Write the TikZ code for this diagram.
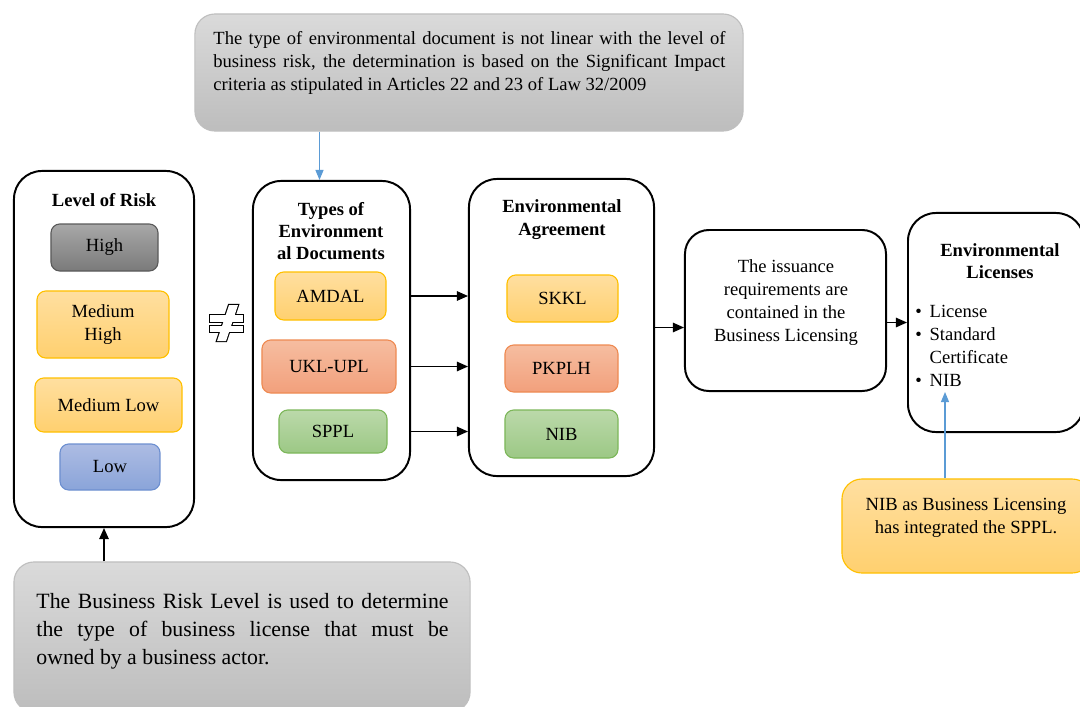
\documentclass[tikz,border=0pt]{standalone}
\usepackage{fontspec}
\setmainfont{Liberation Serif}
\usepackage{xcolor}
\usetikzlibrary{arrows.meta}

\definecolor{highTop}{HTML}{A8A8A8}
\definecolor{highBot}{HTML}{7A7A7A}
\definecolor{highLine}{HTML}{5A5A5A}
\definecolor{goldTop}{HTML}{FFDFA0}
\definecolor{goldBot}{HTML}{FFD06F}
\definecolor{goldLine}{HTML}{FFC000}
\definecolor{salmonTop}{HTML}{F6BDA0}
\definecolor{salmonBot}{HTML}{F2A07C}
\definecolor{salmonLine}{HTML}{EE8A52}
\definecolor{greenTop}{HTML}{BBD9AA}
\definecolor{greenBot}{HTML}{9CC885}
\definecolor{greenLine}{HTML}{7DB75A}
\definecolor{blueTop}{HTML}{ADBCE3}
\definecolor{blueBot}{HTML}{8AA4D9}
\definecolor{blueLine}{HTML}{6D8FD0}
\definecolor{noteTop}{HTML}{DADADA}
\definecolor{noteBot}{HTML}{BDBDBD}
\definecolor{noteLine}{HTML}{BFBFBF}
\definecolor{hintBlue}{HTML}{5B9BD5}

\newcommand{\bulletitem}[1]{\makebox[0.36cm][l]{\textbullet}#1}

\begin{document}
\begin{tikzpicture}[x=0.025cm, y=-0.025cm,
	every node/.style={font=\fontsize{13.2}{16.3}\selectfont},
	bigbox/.style={draw=black, line width=1.4pt, rounded corners=0.7cm},
	boxtitle/.style={font=\fontsize{13.2}{15.8}\selectfont\bfseries, align=center},
	item/.style={rounded corners=0.22cm, line width=0.8pt, align=center},
	high/.style={item, draw=highLine, top color=highTop, bottom color=highBot},
	gold/.style={item, draw=goldLine, top color=goldTop, bottom color=goldBot},
	salmon/.style={item, draw=salmonLine, top color=salmonTop, bottom color=salmonBot},
	leaf/.style={item, draw=greenLine, top color=greenTop, bottom color=greenBot},
	low/.style={item, draw=blueLine, top color=blueTop, bottom color=blueBot},
	note/.style={draw=noteLine, line width=0.8pt, top color=noteTop, bottom color=noteBot, rounded corners=0.5cm},
	flow/.style={-{Triangle[length=0.28cm,width=0.24cm]}, line width=0.9pt},
	hint/.style={-{Triangle[length=0.25cm,width=0.2cm]}, draw=hintBlue, line width=0.8pt},
]
\useasboundingbox (0,0) rectangle (1080,706);
\clip (0,0) rectangle (1080,706);

% level of risk
\node[bigbox, minimum width=4.5cm, minimum height=8.9cm] (risk) at (104,349) {};
\node[boxtitle] (risktitle) at (104,200) {Level of Risk};
\node[high, minimum width=2.675cm, minimum height=1.175cm] (high) at (104.5,247.5) {High};
\node[gold, minimum width=3.3cm, minimum height=1.675cm] (medhigh) at (103,324.5) {Medium\\High};
\node[gold, minimum width=3.675cm, minimum height=1.35cm] (medlow) at (108.5,405) {Medium Low};
\node[low, minimum width=2.5cm, minimum height=1.15cm] (low) at (110,467) {Low};

% not equal sign
\foreach \part in {{(210,315) rectangle (243,322)}, {(210,326) rectangle (243,332)},
	{(229,305) -- (238,305) -- (226,341) -- (217,341) -- cycle}}
	\draw[line width=1.6pt] \part;
\foreach \part in {{(210,315) rectangle (243,322)}, {(210,326) rectangle (243,332)},
	{(229,305) -- (238,305) -- (226,341) -- (217,341) -- cycle}}
	\fill[white] \part;

% types of documents
\node[bigbox, minimum width=3.925cm, minimum height=7.475cm] (types) at (331.5,330.5) {};
\node[boxtitle] (typestitle) at (331,231) {Types of\\Environment\\al Documents};
\node[gold, minimum width=2.775cm, minimum height=1.2cm] (amdal) at (330.5,296) {AMDAL};
\node[salmon, minimum width=3.35cm, minimum height=1.325cm] (ukl) at (329,366.5) {UKL-UPL};
\node[leaf, minimum width=2.7cm, minimum height=1.075cm] (sppl) at (333,431.5) {SPPL};

% environmental agreement
\node[bigbox, minimum width=4.625cm, minimum height=7.425cm] (agree) at (561.5,327.5) {};
\node[boxtitle] (agreetitle) at (562,219.5) {Environmental\\Agreement};
\node[gold, minimum width=2.775cm, minimum height=1.175cm] (skkl) at (562.5,298.5) {SKKL};
\node[salmon, minimum width=2.825cm, minimum height=1.175cm] (pkplh) at (561.5,368.5) {PKPLH};
\node[leaf, minimum width=2.825cm, minimum height=1.2cm] (nib) at (561.5,434) {NIB};

% issuance and licenses
\node[bigbox, rounded corners=0.6cm, minimum width=5.025cm, minimum height=4.025cm] (issue) at (785.5,310.5) {};
\node[align=center, inner sep=0pt] (issuetext) at (786,302.5) {The issuance\\requirements are\\contained in the\\Business Licensing};
\node[bigbox, minimum width=4.4cm, minimum height=5.475cm] (lic) at (996,322.5) {};
\node[boxtitle] (lictitle) at (1000,261.5) {Environmental\\Licenses};
\node[align=left, anchor=west, inner sep=0pt] (liclist) at (915,346) {\bulletitem{License}\\\bulletitem{Standard}\\\hspace*{0.36cm}Certificate\\\bulletitem{NIB}};
\coordinate (nibmark) at (945,392);

% notes
\node[note, minimum width=13.7cm, minimum height=2.925cm] (topnote) at (469,72.5) {};
\node[text width=12.8cm, align=justify, inner sep=0pt] (topnotetext) at (469.5,63) {The type of environmental document is not linear with the level of\linebreak business risk, the determination is based on the Significant Impact\linebreak criteria as stipulated in Articles 22 and 23 of Law 32/2009};
\node[note, minimum width=11.4cm, minimum height=3.75cm] (botnote) at (242,637) {};
\node[text width=10.3cm, align=justify, inner sep=0pt, font=\fontsize{15.5}{19.9}\selectfont] (botnotetext) at (242.5,631) {The Business Risk Level is used to determine\linebreak the type of business license that must be\linebreak owned by a business actor.};
\node[gold, rounded corners=0.5cm, minimum width=6.25cm, minimum height=2.35cm] (nibnote) at (967,526) {};
\node[align=center, inner sep=0pt] (nibnotetext) at (966,517.5) {NIB as Business Licensing\\has integrated the SPPL.};

% connectors
\draw[flow] (types.east |- amdal) -- (agree.west |- amdal);
\draw[flow] (types.east |- ukl) -- (agree.west |- ukl);
\draw[flow] (types.east |- sppl) -- (agree.west |- sppl);
\draw[flow] (agree.east) -- (agree.east -| issue.west);
\draw[flow] (issue.east |- lic) -- (lic.west);
\draw[flow] (risk.south |- botnote.north) -- (risk.south);
\draw[hint] ([xshift=-0.3cm]types.north |- topnote.south) -- ([xshift=-0.3cm]types.north);
\draw[hint] (nibnote.north -| nibmark) -- (nibmark);

\end{tikzpicture}
\end{document}
